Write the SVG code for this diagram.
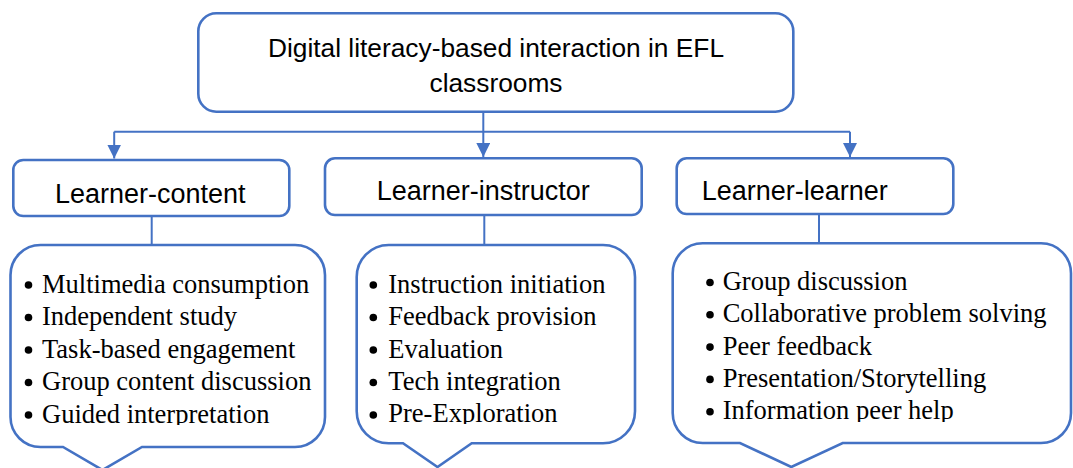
<svg xmlns="http://www.w3.org/2000/svg" width="1073" height="468" viewBox="0 0 1073 468">
  <style>
    .box { fill: #ffffff; stroke: #4472C4; stroke-width: 2.6; }
    .conn { fill: none; stroke: #4472C4; stroke-width: 2; }
    .head { font-family: "Liberation Sans", Arial, sans-serif; fill: #000000; }
    .item { font-family: "Liberation Serif", "Times New Roman", serif; font-size: 26.5px; fill: #000000; }
    .dot { fill: #000000; }
  </style>
  <defs>
    <marker id="arrow" viewBox="0 0 14 14" refX="14" refY="7" markerWidth="14" markerHeight="14" markerUnits="userSpaceOnUse" orient="auto">
      <path d="M0,0 L14,7 L0,14 Z" fill="#4472C4"/>
    </marker>
    <clipPath id="clip1"><rect x="0" y="240" width="340" height="185"/></clipPath>
    <clipPath id="clip2"><rect x="340" y="240" width="310" height="184"/></clipPath>
    <clipPath id="clip3"><rect x="660" y="240" width="413" height="182"/></clipPath>
  </defs>
  <rect width="1073" height="468" fill="#ffffff"/>

  <g id="connectors">
    <path class="conn" d="M483.3,111.7 V131.7"/>
    <path class="conn" d="M114.2,131.7 H850"/>
    <path class="conn" d="M114.2,131.7 V158.5" marker-end="url(#arrow)"/>
    <path class="conn" d="M483.3,131.7 V157" marker-end="url(#arrow)"/>
    <path class="conn" d="M850,131.7 V157" marker-end="url(#arrow)"/>
    <path class="conn" d="M151.7,216 V245"/>
    <path class="conn" d="M484.3,215 V245"/>
    <path class="conn" d="M819,214 V243.3"/>
  </g>

  <g id="root">
    <rect class="box" x="198.3" y="13.3" width="595" height="98.4" rx="18" ry="18"/>
    <text class="head" font-size="26.3" x="496" y="56.7" text-anchor="middle">Digital literacy-based interaction in EFL</text>
    <text class="head" font-size="26.3" x="496" y="91.7" text-anchor="middle">classrooms</text>
  </g>

  <g id="learner-content">
    <rect class="box" x="13.3" y="160" width="276" height="56" rx="10" ry="10"/>
    <text class="head" font-size="27" x="55" y="202.7">Learner-content</text>
  </g>

  <g id="learner-instructor">
    <rect class="box" x="325" y="158.3" width="316.7" height="56.7" rx="10" ry="10"/>
    <text class="head" font-size="27" x="376.7" y="200">Learner-instructor</text>
  </g>

  <g id="learner-learner">
    <rect class="box" x="676.7" y="158.3" width="276.6" height="55.7" rx="10" ry="10"/>
    <text class="head" font-size="27" x="701.7" y="200">Learner-learner</text>
  </g>

  <g id="content-activities">
    <path class="box" d="M40.5,245 H295 A30,30 0 0 1 325,275 V417 A30,30 0 0 1 295,447 H142 L102.5,470 L63,447 H40.5 A30,30 0 0 1 10.5,417 V275 A30,30 0 0 1 40.5,245 Z"/>
    <g clip-path="url(#clip1)">
      <circle class="dot" cx="28.5" cy="285" r="3.8"/>
      <circle class="dot" cx="28.5" cy="317.5" r="3.8"/>
      <circle class="dot" cx="28.5" cy="350" r="3.8"/>
      <circle class="dot" cx="28.5" cy="382.5" r="3.8"/>
      <circle class="dot" cx="28.5" cy="415" r="3.8"/>
      <text class="item" x="42" y="292.5">Multimedia consumption</text>
      <text class="item" x="42" y="325">Independent study</text>
      <text class="item" x="42" y="357.5">Task-based engagement</text>
      <text class="item" x="42" y="390">Group content discussion</text>
      <text class="item" x="42" y="422.5">Guided interpretation</text>
    </g>
  </g>

  <g id="instructor-activities">
    <path class="box" d="M388.7,245 H603 A32,32 0 0 1 635,277 V411.3 A32,32 0 0 1 603,443.3 H471.7 L437.5,467 L403,443.3 H388.7 A32,32 0 0 1 356.7,411.3 V277 A32,32 0 0 1 388.7,245 Z"/>
    <g clip-path="url(#clip2)">
      <circle class="dot" cx="373.3" cy="285" r="3.8"/>
      <circle class="dot" cx="373.3" cy="317.5" r="3.8"/>
      <circle class="dot" cx="373.3" cy="350" r="3.8"/>
      <circle class="dot" cx="373.3" cy="382.5" r="3.8"/>
      <circle class="dot" cx="373.3" cy="415" r="3.8"/>
      <text class="item" x="388.3" y="292.5">Instruction initiation</text>
      <text class="item" x="388.3" y="325">Feedback provision</text>
      <text class="item" x="388.3" y="357.5">Evaluation</text>
      <text class="item" x="388.3" y="390">Tech integration</text>
      <text class="item" x="388.3" y="422">Pre-Exploration</text>
    </g>
  </g>

  <g id="learner-activities">
    <path class="box" d="M702.7,243.3 H1041 A30,30 0 0 1 1071,273.3 V413 A30,30 0 0 1 1041,443 H842.7 L791.3,467 L740,443 H702.7 A30,30 0 0 1 672.7,413 V273.3 A30,30 0 0 1 702.7,243.3 Z"/>
    <g clip-path="url(#clip3)">
      <circle class="dot" cx="710" cy="282.5" r="3.8"/>
      <circle class="dot" cx="710" cy="314.8" r="3.8"/>
      <circle class="dot" cx="710" cy="347.1" r="3.8"/>
      <circle class="dot" cx="710" cy="379.4" r="3.8"/>
      <circle class="dot" cx="710" cy="411.7" r="3.8"/>
      <text class="item" x="722.7" y="290">Group discussion</text>
      <text class="item" x="722.7" y="322.3">Collaborative problem solving</text>
      <text class="item" x="722.7" y="354.6">Peer feedback</text>
      <text class="item" x="722.7" y="386.9">Presentation/Storytelling</text>
      <text class="item" x="722.7" y="419.2">Information peer help</text>
    </g>
  </g>
</svg>
